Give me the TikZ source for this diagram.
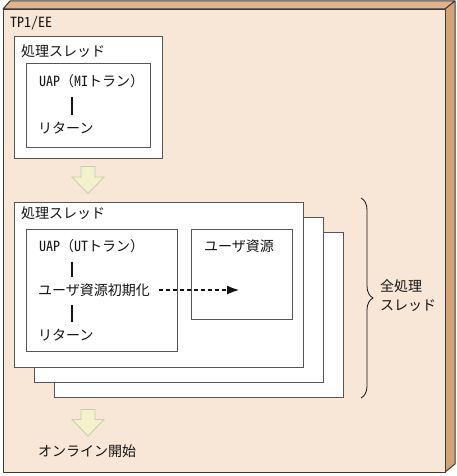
\documentclass[tikz,border=0pt]{standalone}
\usepackage{fontspec}
\setmainfont{Noto Sans CJK JP}
\newfontfamily\halfw[RawFeature=+hwid]{Noto Sans CJK JP}
\usetikzlibrary{decorations.pathreplacing,arrows.meta}

\definecolor{eefront}{HTML}{F8E6D6}
\definecolor{eetop}{HTML}{DFB38C}
\definecolor{eeside}{HTML}{D4A277}
\definecolor{edgecol}{HTML}{3A3A3A}
\definecolor{boxcol}{HTML}{555555}
\definecolor{textcol}{HTML}{141414}
\definecolor{flowfill}{HTML}{F2F2CC}
\definecolor{flowedge}{HTML}{CBCBAE}

\tikzset{
  casing/.style={draw=edgecol, line width=1pt, line join=round},
  threadbox/.style={rectangle, draw=boxcol, fill=white, line width=1.1pt, anchor=north west, inner sep=0pt, minimum width=289pt, minimum height=165pt},
  innerbox/.style={rectangle, draw=boxcol, fill=white, line width=1.1pt, anchor=north west, inner sep=0pt},
  jtext/.style={anchor=west, inner sep=0pt, text=textcol, text height=12pt, text depth=2pt, font=\fontsize{14pt}{19pt}\selectfont},
  flow/.style={draw=flowedge, fill=flowfill, line width=0.8pt},
  spine/.style={draw=textcol, line width=1.1pt, shorten <=8pt, shorten >=6pt},
  initcall/.style={draw=textcol, line width=1.1pt, dash pattern=on 4pt off 3pt, shorten <=9pt, -{Latex[length=12pt,width=9pt]}},
  bracecol/.style={decorate, decoration={brace, amplitude=12pt}, draw=textcol, line width=0.8pt}
}

\begin{document}
\begin{tikzpicture}[x=1pt, y=-1pt]
  \useasboundingbox (0,0) rectangle (456,476);

  % TP1/EE casing
  \path[casing, fill=eetop] (3,9) -- (10,1) -- (455,1) -- (445,9) -- cycle;
  \path[casing, fill=eeside] (445,9) -- (455,1) -- (455,464) -- (445,472) -- cycle;
  \node (ee) [rectangle, casing, fill=eefront, anchor=north west, inner sep=0pt, minimum width=442pt, minimum height=463pt] at (3,9) {};
  \node (eename) [jtext] at (10,23) {\halfw TP1/EE};

  % First thread
  \node (thread1) [innerbox, minimum width=148pt, minimum height=122pt] at (14,36) {};
  \node (thread1name) [jtext] at (21,52) {処理スレッド};
  \node (uapbox1) [innerbox, minimum width=124pt, minimum height=84pt] at (26,63) {};
  \node (uap1) [jtext] at (39,81.7) {{\halfw UAP}（{\halfw MI}トラン）};
  \node (ret1) [jtext] at (38,128) {リターン};
  \coordinate (spine1) at (72,0);

  % Flow arrow to all threads
  \path[flow] (81,166.5) -- (95,166.5) -- (95,177) -- (104,177) -- (88,193.5) -- (72,177) -- (81,177) -- cycle;

  % All threads
  \node (threadC) [threadbox] at (54,232) {};
  \node (threadB) [threadbox] at (34,217) {};
  \node (threadA) [threadbox] at (14,202) {};
  \node (threadAname) [jtext] at (21,213.3) {処理スレッド};
  \node (uapbox2) [innerbox, minimum width=151pt, minimum height=122pt] at (26,228.5) {};
  \node (resbox) [innerbox, minimum width=101pt, minimum height=90pt] at (191,228.5) {};
  \node (uap2) [jtext] at (39,246.7) {{\halfw UAP}（{\halfw UT}トラン）};
  \node (init) [jtext] at (38,290) {ユーザ資源初期化};
  \node (ret2) [jtext] at (38,335) {リターン};
  \node (resname) [jtext] at (204,246.7) {ユーザ資源};
  \coordinate (spine2) at (72,0);
  \coordinate (initend) at (239,290);

  % Brace
  \draw[bracecol] (361,198) -- (361,398);
  \node (allthreads) [jtext, align=left, text height=, text depth=] at (380,295.5) {全処理\\スレッド};

  % Flow arrow to online start
  \path[flow] (81,409.5) -- (95,409.5) -- (95,419.5) -- (104,419.5) -- (88,436) -- (72,419.5) -- (81,419.5) -- cycle;
  \node (online) [jtext] at (38,451) {オンライン開始};

  % Arrows
  \draw[spine] (uap1.south -| spine1) -- (ret1.north -| spine1);
  \draw[spine] (uap2.south -| spine2) -- (init.north -| spine2);
  \draw[spine] (init.south -| spine2) -- (ret2.north -| spine2);
  \draw[initcall] (init.east) -- (initend);
\end{tikzpicture}
\end{document}
